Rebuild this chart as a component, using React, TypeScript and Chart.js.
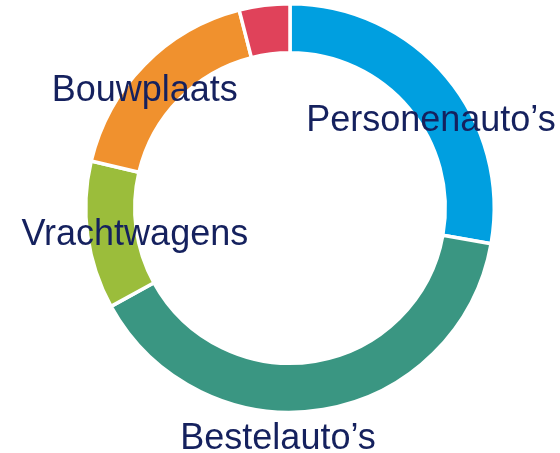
import React, { useEffect, useRef } from "react";
import { Chart, registerables } from "chart.js";

Chart.register(...registerables);

const categories = ["Personenauto’s", "Bestelauto’s", "Vrachtwagens", "Bouwplaats", "Overig"];
const shares = [27.8, 39.2, 11.7, 17.3, 4.0];
const showLabel = [true, true, true, true, false];
const colors = ["#009FE0", "#3A9682", "#9BBD3B", "#F0912E", "#E0425A"];

// label anchors (left, baseline) relative to the doughnut centre, in outer-radius units
const labelAnchors = [
  [0.079, -0.379],
  [-0.537, 1.182],
  [-1.315, 0.182],
  [-1.167, -0.522],
  [0, 0],
];

const labelPlugin = {
  id: "ringLabels",
  afterDatasetsDraw(chart: any) {
    const meta = chart.getDatasetMeta(0);
    const arc = meta.data[0];
    if (!arc) return;
    const { x, y, outerRadius } = arc.getProps(["x", "y", "outerRadius"], true);
    const ctx = chart.ctx;
    ctx.save();
    ctx.font = '36px "Liberation Sans", Arial, sans-serif';
    ctx.fillStyle = "#15215E";
    ctx.textAlign = "left";
    ctx.textBaseline = "alphabetic";
    categories.forEach((c, i) => {
      if (!showLabel[i]) return;
      const [ax, ay] = labelAnchors[i];
      ctx.fillText(c, x + ax * outerRadius, y + ay * outerRadius);
    });
    ctx.restore();
  },
};

export default function App() {
  const ref = useRef<HTMLCanvasElement>(null);
  useEffect(() => {
    if (!ref.current) return;
    const chart = new Chart(ref.current, {
      type: "doughnut",
      data: {
        labels: categories,
        datasets: [
          {
            data: shares,
            backgroundColor: colors,
            borderColor: "#FFFFFF",
            borderWidth: 3.5,
          },
        ],
      },
      options: {
        responsive: false,
        animation: false,
        cutout: "76%",
        layout: { padding: { top: 2, bottom: 39, left: 84, right: 64 } },
        plugins: { legend: { display: false }, tooltip: { enabled: false } },
      },
      plugins: [labelPlugin],
    });
    return () => chart.destroy();
  }, []);
  return (
    <div style={{ position: "absolute", left: 0, top: 0, width: 560, height: 453, background: "#fff" }}>
      <canvas ref={ref} width={560} height={453} style={{ width: 560, height: 453, display: "block" }} />
    </div>
  );
}
